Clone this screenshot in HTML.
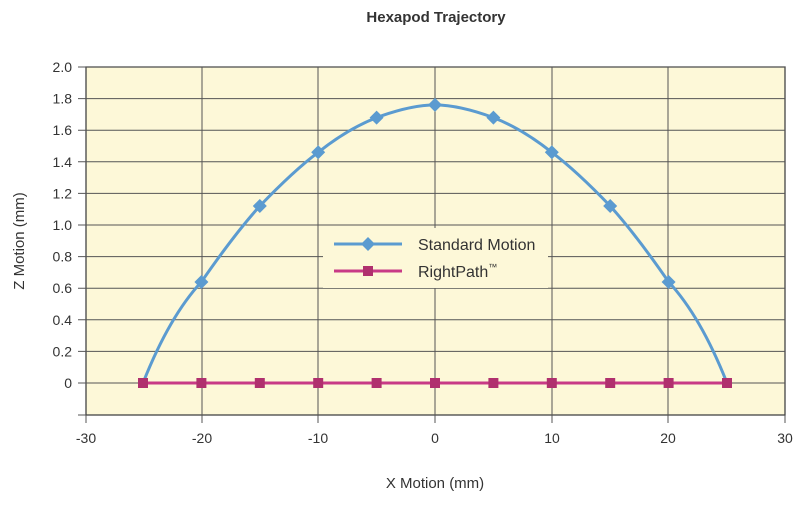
<!DOCTYPE html>
<html><head><meta charset="utf-8"><style>
body{margin:0;background:#fff;}
svg text{font-family:"Liberation Sans Narrow","Liberation Sans",sans-serif;fill:#333;}
</style></head><body>
<svg width="800" height="507" viewBox="0 0 800 507" xmlns="http://www.w3.org/2000/svg">
<text x="436" y="22" text-anchor="middle" font-size="15" font-weight="bold" style="fill:#333">Hexapod Trajectory</text>
<rect x="86" y="67" width="699" height="348" fill="#fdf8d8" stroke="#444" stroke-width="1.3"/>
<g stroke="#555" stroke-width="1">
<line x1="202" y1="67" x2="202" y2="415"/><line x1="318" y1="67" x2="318" y2="415"/><line x1="435" y1="67" x2="435" y2="415"/><line x1="552" y1="67" x2="552" y2="415"/><line x1="668" y1="67" x2="668" y2="415"/>
<line x1="78" y1="67" x2="785" y2="67"/><line x1="78" y1="98.6" x2="785" y2="98.6"/><line x1="78" y1="130.2" x2="785" y2="130.2"/><line x1="78" y1="161.8" x2="785" y2="161.8"/><line x1="78" y1="193.4" x2="785" y2="193.4"/><line x1="78" y1="225" x2="785" y2="225"/><line x1="78" y1="256.6" x2="785" y2="256.6"/><line x1="78" y1="288.2" x2="785" y2="288.2"/><line x1="78" y1="319.8" x2="785" y2="319.8"/><line x1="78" y1="351.4" x2="785" y2="351.4"/><line x1="78" y1="383" x2="785" y2="383"/><line x1="78" y1="415" x2="86" y2="415"/>
<line x1="86" y1="415" x2="86" y2="423"/><line x1="202" y1="415" x2="202" y2="423"/><line x1="318" y1="415" x2="318" y2="423"/><line x1="435" y1="415" x2="435" y2="423"/><line x1="552" y1="415" x2="552" y2="423"/><line x1="668" y1="415" x2="668" y2="423"/><line x1="785" y1="415" x2="785" y2="423"/>
</g>
<g font-size="14" text-anchor="end">
<text x="72" y="72">2.0</text><text x="72" y="103.6">1.8</text><text x="72" y="135.2">1.6</text><text x="72" y="166.8">1.4</text><text x="72" y="198.4">1.2</text><text x="72" y="230">1.0</text><text x="72" y="261.6">0.8</text><text x="72" y="293.2">0.6</text><text x="72" y="324.8">0.4</text><text x="72" y="356.4">0.2</text><text x="72" y="388">0</text>
</g>
<g font-size="14" text-anchor="middle">
<text x="86" y="443">-30</text><text x="202" y="443">-20</text><text x="318" y="443">-10</text><text x="435" y="443">0</text><text x="552" y="443">10</text><text x="668" y="443">20</text><text x="785" y="443">30</text>
<text x="435" y="488" font-size="15">X Motion (mm)</text>
<text transform="translate(24 241) rotate(-90)" font-size="15">Z Motion (mm)</text>
</g>
<path d="M143,383 C160,340 180,305 201.4,281.9 C220,255 240,228 259.8,206 C280,185 300,166 318.2,152.3 C340,135 360,124 376.6,117.6 C400,109 420,105 435,104.9 C450,105 470,109 493.4,117.6 C510,124 530,135 551.8,152.3 C570,166 590,185 610.2,206 C630,228 650,255 668.6,281.9 C690,305 710,340 727,383" fill="none" stroke="#5b9bd0" stroke-width="3"/>
<line x1="143" y1="383" x2="727" y2="383" stroke="#c83a86" stroke-width="3"/>
<g fill="#5b9bd0">
<path d="M201.4,275 l7,7 l-7,7 l-7,-7z"/><path d="M259.8,199 l7,7 l-7,7 l-7,-7z"/><path d="M318.2,145.3 l7,7 l-7,7 l-7,-7z"/><path d="M376.6,110.6 l7,7 l-7,7 l-7,-7z"/><path d="M435,97.9 l7,7 l-7,7 l-7,-7z"/><path d="M493.4,110.6 l7,7 l-7,7 l-7,-7z"/><path d="M551.8,145.3 l7,7 l-7,7 l-7,-7z"/><path d="M610.2,199 l7,7 l-7,7 l-7,-7z"/><path d="M668.6,275 l7,7 l-7,7 l-7,-7z"/>
</g>
<g fill="#b0306e">
<rect x="138" y="378" width="10" height="10"/><rect x="196.4" y="378" width="10" height="10"/><rect x="254.8" y="378" width="10" height="10"/><rect x="313.2" y="378" width="10" height="10"/><rect x="371.6" y="378" width="10" height="10"/><rect x="430" y="378" width="10" height="10"/><rect x="488.4" y="378" width="10" height="10"/><rect x="546.8" y="378" width="10" height="10"/><rect x="605.2" y="378" width="10" height="10"/><rect x="663.6" y="378" width="10" height="10"/><rect x="722" y="378" width="10" height="10"/>
</g>
<rect x="323" y="228" width="225" height="60" fill="#fdf8d8"/>
<line x1="334" y1="244" x2="402" y2="244" stroke="#5b9bd0" stroke-width="3"/>
<path d="M368,237 l7,7 l-7,7 l-7,-7z" fill="#5b9bd0"/>
<line x1="334" y1="271" x2="402" y2="271" stroke="#c83a86" stroke-width="3"/>
<rect x="363" y="266" width="10" height="10" fill="#b0306e"/>
<text x="418" y="250" font-size="16">Standard Motion</text>
<text x="418" y="277" font-size="16">RightPath<tspan font-size="9" dy="-7">™</tspan></text>
</svg>
</body></html>
